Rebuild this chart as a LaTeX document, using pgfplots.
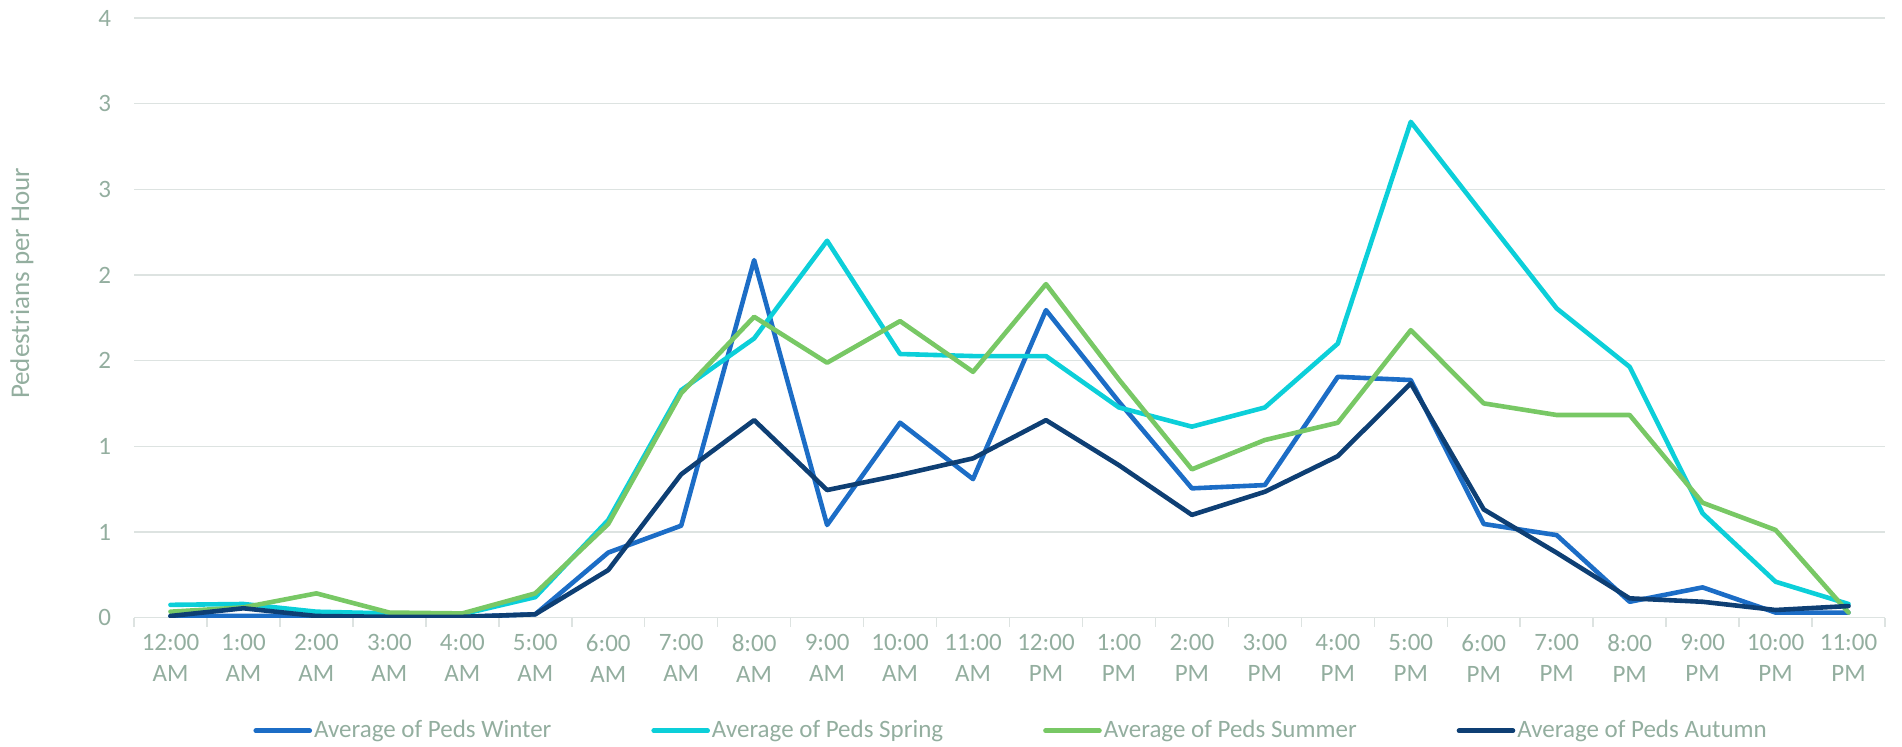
\documentclass[border=0pt]{standalone}
\usepackage{fontspec}
\setmainfont{Carlito}
\usepackage{pgfplots}
\usepackage{pgfplotstable}
\pgfplotsset{compat=1.18}
\definecolor{txt}{HTML}{93AE9F}
\definecolor{gridc}{HTML}{DDE3E1}
\definecolor{winter}{HTML}{1C6DC6}
\definecolor{spring}{HTML}{0CCFD9}
\definecolor{summer}{HTML}{78C865}
\definecolor{autumn}{HTML}{0E3F74}
\pgfplotstableread{
h  w     sp    su    au
0  0.01  0.075 0.035 0.01
1  0.01  0.08  0.06  0.055
2  0.01  0.035 0.142 0.01
3  0.005 0.025 0.03  0.005
4  0.005 0.02  0.025 0.005
5  0.02  0.12  0.142 0.02
6  0.38  0.57  0.547 0.278
7  0.537 1.328 1.31  0.837
8  2.087 1.63  1.756 1.153
9  0.541 2.2   1.488 0.745
10 1.138 1.539 1.731 0.833
11 0.809 1.527 1.435 0.93
12 1.795 1.527 1.947 1.153
13 1.26  1.227 1.39  0.89
14 0.755 1.115 0.866 0.6
15 0.774 1.227 1.037 0.735
16 1.406 1.6   1.138 0.943
17 1.387 2.894 1.678 1.368
18 0.547 2.348 1.251 0.632
19 0.482 1.805 1.183 0.379
20 0.093 1.464 1.183 0.113
21 0.177 0.609 0.671 0.093
22 0.03  0.21  0.512 0.045
23 0.03  0.08  0.03  0.068
}\datatable
\begin{document}
\begin{tikzpicture}
\path[use as bounding box] (0,0) rectangle (951pt,373pt);
\begin{axis}[
  at={(67pt,64.15pt)}, anchor=south west,
  scale only axis, width=875.5pt, height=299.85pt,
  xmin=-0.5, xmax=23.5, ymin=0, ymax=3.5,
  axis x line*=bottom, axis y line*=left,
  x axis line style={draw=gridc, line width=0.75pt, -},
  y axis line style={draw=none},
  ymajorgrids, grid style={draw=gridc, line width=0.75pt},
  ytick={0,0.5,...,3.5},
  yticklabels={0,1,1,2,2,3,3,4},
  ytick style={draw=none},
  xtick={0,...,23},
  xticklabels={{12:00\\AM},{1:00\\AM},{2:00\\AM},{3:00\\AM},{4:00\\AM},{5:00\\AM},{6:00\\AM},{7:00\\AM},{8:00\\AM},{9:00\\AM},{10:00\\AM},{11:00\\AM},{12:00\\PM},{1:00\\PM},{2:00\\PM},{3:00\\PM},{4:00\\PM},{5:00\\PM},{6:00\\PM},{7:00\\PM},{8:00\\PM},{9:00\\PM},{10:00\\PM},{11:00\\PM}},
  minor xtick={-0.5,0.5,...,23.5},
  major tick length=0pt, minor tick length=4.5pt,
  tick align=outside,
  minor x tick style={draw=gridc, line width=0.75pt},
  xticklabel style={align=center, font=\fontsize{12.5}{15.5}\selectfont, text=txt, yshift=-5pt},
  yticklabel style={font=\fontsize{12.5}{14}\selectfont, text=txt, xshift=-8pt},
  /pgf/number format/assume math mode=true,
  legend columns=4,
  legend style={at={(0.5009,0)}, anchor=center, yshift=-56.5pt, draw=none, fill=none,
    font=\fontsize{12.5}{14}\selectfont, text=txt,
    nodes={inner sep=1pt},
    /tikz/every even column/.append style={column sep=49pt}},
  legend cell align=left,
  legend image code/.code={\draw[#1, line width=2.3pt, line cap=round] (0pt,0pt) -- (27pt,0pt);},
  every axis plot/.append style={line width=2.3pt, line join=round, line cap=round},
]
\addplot[winter] table[x=h, y=w] {\datatable};
\addlegendentry{Average of Peds Winter}
\addplot[spring] table[x=h, y=sp] {\datatable};
\addlegendentry{Average of Peds Spring}
\addplot[summer] table[x=h, y=su] {\datatable};
\addlegendentry{Average of Peds Summer}
\addplot[autumn] table[x=h, y=au] {\datatable};
\addlegendentry{Average of Peds Autumn}
\end{axis}
\node[rotate=90, text=txt, font=\fontsize{13.5}{15}\selectfont] at (11pt,231.25pt) {Pedestrians per Hour};
\end{tikzpicture}
\end{document}
